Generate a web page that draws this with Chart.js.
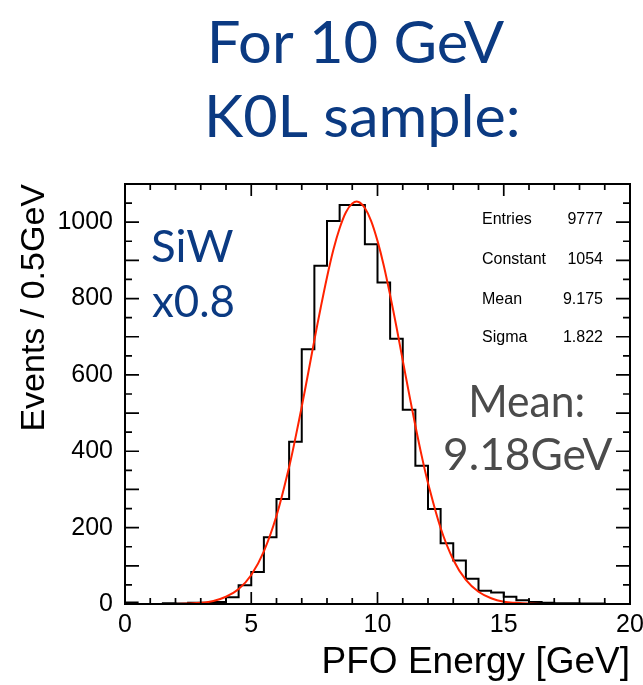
<!DOCTYPE html>
<html>
<head>
<meta charset="utf-8">
<script src="https://cdn.jsdelivr.net/npm/chart.js@4.4.0/dist/chart.umd.min.js"></script>
<style>
html, body { margin: 0; padding: 0; background: #fff; }
#wrap { position: relative; width: 643px; height: 685px; }
</style>
</head>
<body>
<div id="wrap"><canvas id="pfoChart" width="643" height="685"></canvas></div>
<script>
"use strict";
// PFO energy histogram, 0.5 GeV bins (low edge in GeV)
const binLow = [0, 0.5, 1, 1.5, 2, 2.5, 3, 3.5, 4, 4.5, 5, 5.5, 6, 6.5, 7, 7.5, 8, 8.5, 9, 9.5,
    10, 10.5, 11, 11.5, 12, 12.5, 13, 13.5, 14, 14.5, 15, 15.5, 16, 16.5, 17, 17.5, 18, 18.5, 19, 19.5];
const binCounts = [4, 0, 0, 2, 1, 3, 3, 5, 18, 49, 84, 175, 275, 425, 667, 886, 1003, 1045, 1045, 942,
    842, 695, 509, 362, 249, 159, 114, 66, 35, 30, 19, 10, 5, 3, 2, 2, 1, 1, 0, 0];
const histEnd = 20;
// red gaussian fit curve as drawn
const fitE = [0, 0.5, 1, 1.5, 2, 2.5, 3, 3.5, 4, 4.5, 5, 5.5, 6, 6.5, 6.75, 7, 7.25, 7.5, 7.75, 8,
    8.25, 8.5, 8.75, 9, 9.25, 9.5, 9.75, 10, 10.25, 10.5, 10.75, 11, 11.25, 11.5, 11.75, 12, 12.5, 13,
    13.5, 14, 14.5, 15, 15.5, 16, 16.5, 17, 17.5, 18, 18.5, 19, 19.5, 20];
const fitVal = [0, 0, 0, 0, 0, 1, 3, 8, 19, 39, 76, 138, 231, 359, 435, 517, 603, 691, 776, 856,
    927, 984, 1026, 1049, 1053, 1037, 1003, 951, 886, 809, 726, 638, 551, 467, 388, 317, 199, 116,
    63, 32, 15, 6, 3, 1, 0, 0, 0, 0, 0, 0, 0, 0];
const xRange = [0, 20];
const yRange = [0, 1100];
const titleLines = ['For 10 GeV', 'K0L sample:'];
const statNames = ['Entries', 'Constant', 'Mean', 'Sigma'];
const statValues = ['9777', '1054', '9.175', '1.822'];

const BLUE = '#0b3a82';
const GREY = '#4b4b4b';

// draws text so its ink spans [left, right]
function fitText(ctx, txt, left, right, baseline, font, color) {
    ctx.save();
    ctx.font = font;
    ctx.textAlign = 'left';
    ctx.textBaseline = 'alphabetic';
    let m = ctx.measureText(txt);
    let ink = m.actualBoundingBoxLeft + m.actualBoundingBoxRight;
    let s = (right - left) / ink;
    ctx.translate(left, baseline);
    ctx.scale(s, 1);
    ctx.fillStyle = color;
    ctx.fillText(txt, m.actualBoundingBoxLeft, 0);
    ctx.restore();
}

const rootFrame = {
    id: 'rootFrame',
    afterDraw(chart) {
        let ctx = chart.ctx;
        let a = chart.chartArea;
        let x = chart.scales.x;
        let y = chart.scales.y;
        ctx.save();
        ctx.strokeStyle = '#000';
        ctx.lineWidth = 1.7;
        ctx.beginPath();
        for (let v = xRange[0]; v <= xRange[1]; v++) {
            let px = x.getPixelForValue(v);
            let len = v % 5 === 0 ? 12 : 6;
            ctx.moveTo(px, a.bottom); ctx.lineTo(px, a.bottom - len);
            ctx.moveTo(px, a.top); ctx.lineTo(px, a.top + len);
        }
        for (let v = yRange[0]; v <= yRange[1]; v += 50) {
            let py = y.getPixelForValue(v);
            let len = v % 100 === 0 ? 14 : 7;
            ctx.moveTo(a.left, py); ctx.lineTo(a.left + len, py);
            ctx.moveTo(a.right, py); ctx.lineTo(a.right - len, py);
        }
        ctx.stroke();
        ctx.lineWidth = 2;
        ctx.strokeRect(a.left, a.top, a.right - a.left, a.bottom - a.top);

        // stats box
        ctx.fillStyle = '#000';
        ctx.font = '16px "Liberation Sans", Arial, sans-serif';
        ctx.textBaseline = 'alphabetic';
        let rows = [224, 264, 304, 342];
        for (let i = 0; i < statNames.length; i++) {
            ctx.textAlign = 'left';
            ctx.fillText(statNames[i], 482, rows[i]);
            ctx.textAlign = 'right';
            ctx.fillText(statValues[i], 603, rows[i]);
        }
        ctx.restore();

        // annotations
        let gill = 'Lato, "Open Sans", sans-serif';
        fitText(ctx, titleLines[0], 212, 505, 63, '58px ' + gill, BLUE);
        fitText(ctx, titleLines[1], 209, 517, 137, '58px ' + gill, BLUE);
        fitText(ctx, 'SiW', 152, 233, 262, '45px ' + gill, BLUE);
        fitText(ctx, 'x0.8', 152, 233, 317, '45px ' + gill, BLUE);
        fitText(ctx, 'Mean:', 472, 583, 417, '45px ' + gill, GREY);
        fitText(ctx, '9.18GeV', 445, 613, 470, '45px ' + gill, GREY);
    }
};

let histPoints = [{x: binLow[0], y: 0}];
binLow.forEach((e, i) => histPoints.push({x: e, y: binCounts[i]}));
histPoints.push({x: histEnd, y: binCounts[binCounts.length - 1]});
histPoints.push({x: histEnd, y: 0});

let fitPoints = fitE.map((e, i) => ({x: e, y: fitVal[i]}));

let canvas = document.getElementById('pfoChart');
let ctx = canvas.getContext('2d');
new Chart(ctx, {
    type: 'line',
    data: {
        datasets: [{
                label: 'fit',
                data: fitPoints,
                borderColor: '#ff2200',
                borderWidth: 2,
                pointRadius: 0,
                tension: 0.35,
                fill: false,
                order: 0
            }, {
                label: 'PFO energy',
                data: histPoints,
                borderColor: '#000',
                borderWidth: 2,
                pointRadius: 0,
                stepped: true,
                fill: false,
                order: 1
            }]
    },
    options: {
        responsive: false,
        animation: false,
        layout: { padding: { top: 184, right: 13, left: 0, bottom: 0 } },
        plugins: { legend: { display: false }, tooltip: { enabled: false } },
        scales: {
            x: {
                type: 'linear',
                min: xRange[0],
                max: xRange[1],
                afterFit: s => { s.height = 81; s.paddingLeft = 0; s.paddingRight = 0; },
                grid: { display: false, drawTicks: false },
                border: { display: false },
                ticks: {
                    stepSize: 5,
                    padding: 6,
                    color: '#000',
                    maxRotation: 0,
                    font: { family: '"Liberation Sans", Arial, sans-serif', size: 25 }
                },
                title: {
                    display: true,
                    text: 'PFO Energy [GeV]',
                    align: 'end',
                    color: '#000',
                    padding: 0,
                    font: { family: '"Liberation Sans", Arial, sans-serif', size: 37 }
                }
            },
            y: {
                type: 'linear',
                min: yRange[0],
                max: yRange[1],
                afterFit: s => { s.width = 125; },
                grid: { display: false, drawTicks: false },
                border: { display: false },
                ticks: {
                    stepSize: 200,
                    padding: 12,
                    color: '#000',
                    callback: v => (v % 200 === 0 ? v : ''),
                    font: { family: '"Liberation Sans", Arial, sans-serif', size: 25 }
                },
                title: {
                    display: true,
                    text: 'Events / 0.5GeV',
                    align: 'end',
                    color: '#000',
                    padding: 14,
                    font: { family: '"Liberation Sans", Arial, sans-serif', size: 34 }
                }
            }
        }
    },
    plugins: [rootFrame]
});
</script>
</body>
</html>
